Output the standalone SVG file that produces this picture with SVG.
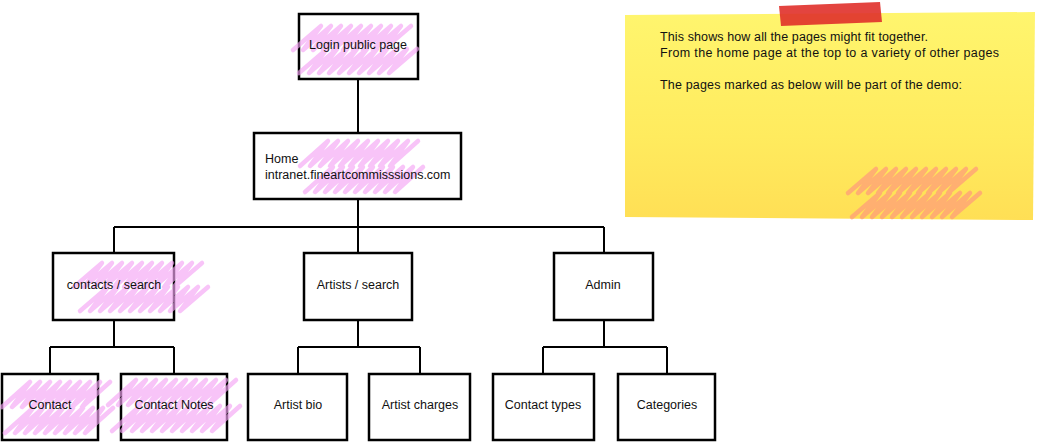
<svg xmlns="http://www.w3.org/2000/svg" width="1037" height="442" viewBox="0 0 1037 442">
<defs>
<linearGradient id="note" x1="0" y1="0" x2="0" y2="1">
<stop offset="0" stop-color="#fff56e"/>
<stop offset="0.6" stop-color="#ffeb5e"/>
<stop offset="1" stop-color="#ffdf55"/>
</linearGradient>
<style>
.box{fill:#fff;stroke:#000;stroke-width:2.5}
.lbl{font-family:"Liberation Sans",Arial,sans-serif;font-size:12.5px;fill:#111}
.mid{text-anchor:middle}
.sc{fill:none;stroke:#f4a4f4;stroke-opacity:0.65;stroke-width:4.5;stroke-linecap:round;stroke-linejoin:round}
.conn{fill:none;stroke:#000;stroke-width:2}
.note{font-family:"Liberation Sans",Arial,sans-serif;font-size:12.5px;fill:#111}
</style>
</defs>
<rect width="1037" height="442" fill="#fff"/>

<g id="sticky-note">
<polygon points="625,15 1035,12 1033,220 625,217" fill="url(#note)"/>
<polygon points="779,6 880,2 882,22 781,26" fill="#e0302a" fill-opacity="0.9"/>
<path d="M848,193 l28,-24 l-18,24 l28,-24 l-18,24 l28,-24 l-18,24 l28,-24 l-18,24 l28,-24 l-18,24 l28,-24 l-18,24 l28,-24 l-18,24 l28,-24 l-18,24 l28,-24 l-18,24 l28,-24 l-18,24 l28,-24 M852,217 l28,-24 l-18,24 l28,-24 l-18,24 l28,-24 l-18,24 l28,-24 l-18,24 l28,-24 l-18,24 l28,-24 l-18,24 l28,-24 l-18,24 l28,-24 l-18,24 l28,-24 l-18,24 l28,-24 l-18,24 l28,-24" fill="none" stroke="#ff9e7a" stroke-opacity="0.75" stroke-width="4.5" stroke-linecap="round" stroke-linejoin="round"/>
<text class="note" x="660" y="41" textLength="268" lengthAdjust="spacing">This shows how all the pages might fit together.</text>
<text class="note" x="660" y="57" textLength="339" lengthAdjust="spacing">From the home page at the top to a variety of other pages</text>
<text class="note" x="660" y="89" textLength="302" lengthAdjust="spacing">The pages marked as below will be part of the demo:</text>
</g>

<g id="connectors">
<path class="conn" d="M358,80 V133"/>
<path class="conn" d="M358,199 V227 M114,227 H604 M114,227 V253 M358,227 V253 M604,227 V253"/>
<path class="conn" d="M114,320 V347 M50,347 H174 M50,347 V374 M174,347 V374"/>
<path class="conn" d="M358,320 V347 M298,347 H420 M298,347 V374 M420,347 V374"/>
<path class="conn" d="M604,320 V347 M543,347 H667 M543,347 V374 M667,347 V374"/>
</g>

<g id="login">
<rect class="box" x="299" y="14" width="119" height="65"/>
<path class="sc" d="M293,50 l28,-24 l-18,24 l28,-24 l-18,24 l28,-24 l-18,24 l28,-24 l-18,24 l28,-24 l-18,24 l28,-24 l-18,24 l28,-24 l-18,24 l28,-24 l-18,24 l28,-24 l-18,24 l28,-24 M299,73 l28,-24 l-18,24 l28,-24 l-18,24 l28,-24 l-18,24 l28,-24 l-18,24 l28,-24 l-18,24 l28,-24 l-18,24 l28,-24 l-18,24 l28,-24 l-18,24 l28,-24 l-18,24 l28,-24"/>
<text class="lbl mid" x="358" y="49">Login public page</text>
</g>

<g id="home">
<rect class="box" x="254" y="133" width="207" height="66"/>
<path class="sc" d="M300,166 l28,-25 l-18,25 l28,-25 l-18,25 l28,-25 l-18,25 l28,-25 l-18,25 l28,-25 l-18,25 l28,-25 l-18,25 l28,-25 l-18,25 l28,-25 l-18,25 l28,-25 l-18,25 l28,-25 M305,192 l28,-25 l-18,25 l28,-25 l-18,25 l28,-25 l-18,25 l28,-25 l-18,25 l28,-25 l-18,25 l28,-25 l-18,25 l28,-25 l-18,25 l28,-25 l-18,25 l28,-25 l-18,25 l28,-25"/>
<text class="lbl" x="265" y="163">Home</text>
<text class="lbl" x="265" y="179">intranet.fineartcommisssions.com</text>
</g>

<g id="contacts-search">
<rect class="box" x="53" y="253" width="121" height="67"/>
<path class="sc" d="M74,287 l28,-24 l-18,24 l28,-24 l-18,24 l28,-24 l-18,24 l28,-24 l-18,24 l28,-24 l-18,24 l28,-24 l-18,24 l28,-24 l-18,24 l28,-24 l-18,24 l28,-24 l-18,24 l28,-24 l-18,24 l28,-24 M80,311 l28,-24 l-18,24 l28,-24 l-18,24 l28,-24 l-18,24 l28,-24 l-18,24 l28,-24 l-18,24 l28,-24 l-18,24 l28,-24 l-18,24 l28,-24 l-18,24 l28,-24 l-18,24 l28,-24 l-18,24 l28,-24"/>
<text class="lbl mid" x="114" y="289">contacts / search</text>
</g>

<g id="artists-search">
<rect class="box" x="304" y="253" width="108" height="67"/>
<text class="lbl mid" x="358" y="289">Artists / search</text>
</g>

<g id="admin">
<rect class="box" x="554" y="253" width="99" height="67"/>
<text class="lbl mid" x="603" y="289">Admin</text>
</g>

<g id="contact">
<rect class="box" x="2" y="374" width="96" height="66"/>
<path class="sc" d="M2,407 l28,-25 l-18,25 l28,-25 l-18,25 l28,-25 l-18,25 l28,-25 l-18,25 l28,-25 l-18,25 l28,-25 l-18,25 l28,-25 l-18,25 l28,-25 l-18,25 l28,-25 M5,433 l28,-25 l-18,25 l28,-25 l-18,25 l28,-25 l-18,25 l28,-25 l-18,25 l28,-25 l-18,25 l28,-25 l-18,25 l28,-25 l-18,25 l28,-25 l-18,25 l28,-25"/>
<text class="lbl mid" x="50" y="409">Contact</text>
</g>

<g id="contact-notes">
<rect class="box" x="121" y="374" width="106" height="66"/>
<path class="sc" d="M108,405 l28,-25 l-18,25 l28,-25 l-18,25 l28,-25 l-18,25 l28,-25 l-18,25 l28,-25 l-18,25 l28,-25 l-18,25 l28,-25 l-18,25 l28,-25 l-18,25 l28,-25 l-18,25 l28,-25 l-18,25 l28,-25 M112,431 l28,-25 l-18,25 l28,-25 l-18,25 l28,-25 l-18,25 l28,-25 l-18,25 l28,-25 l-18,25 l28,-25 l-18,25 l28,-25 l-18,25 l28,-25 l-18,25 l28,-25 l-18,25 l28,-25 l-18,25 l28,-25"/>
<text class="lbl mid" x="174" y="409">Contact Notes</text>
</g>

<g id="artist-bio">
<rect class="box" x="248" y="374" width="99" height="66"/>
<text class="lbl mid" x="298" y="409">Artist bio</text>
</g>

<g id="artist-charges">
<rect class="box" x="369" y="374" width="101" height="66"/>
<text class="lbl mid" x="420" y="409">Artist charges</text>
</g>

<g id="contact-types">
<rect class="box" x="493" y="374" width="101" height="66"/>
<text class="lbl mid" x="543" y="409">Contact types</text>
</g>

<g id="categories">
<rect class="box" x="618" y="374" width="97" height="66"/>
<text class="lbl mid" x="667" y="409">Categories</text>
</g>
</svg>
